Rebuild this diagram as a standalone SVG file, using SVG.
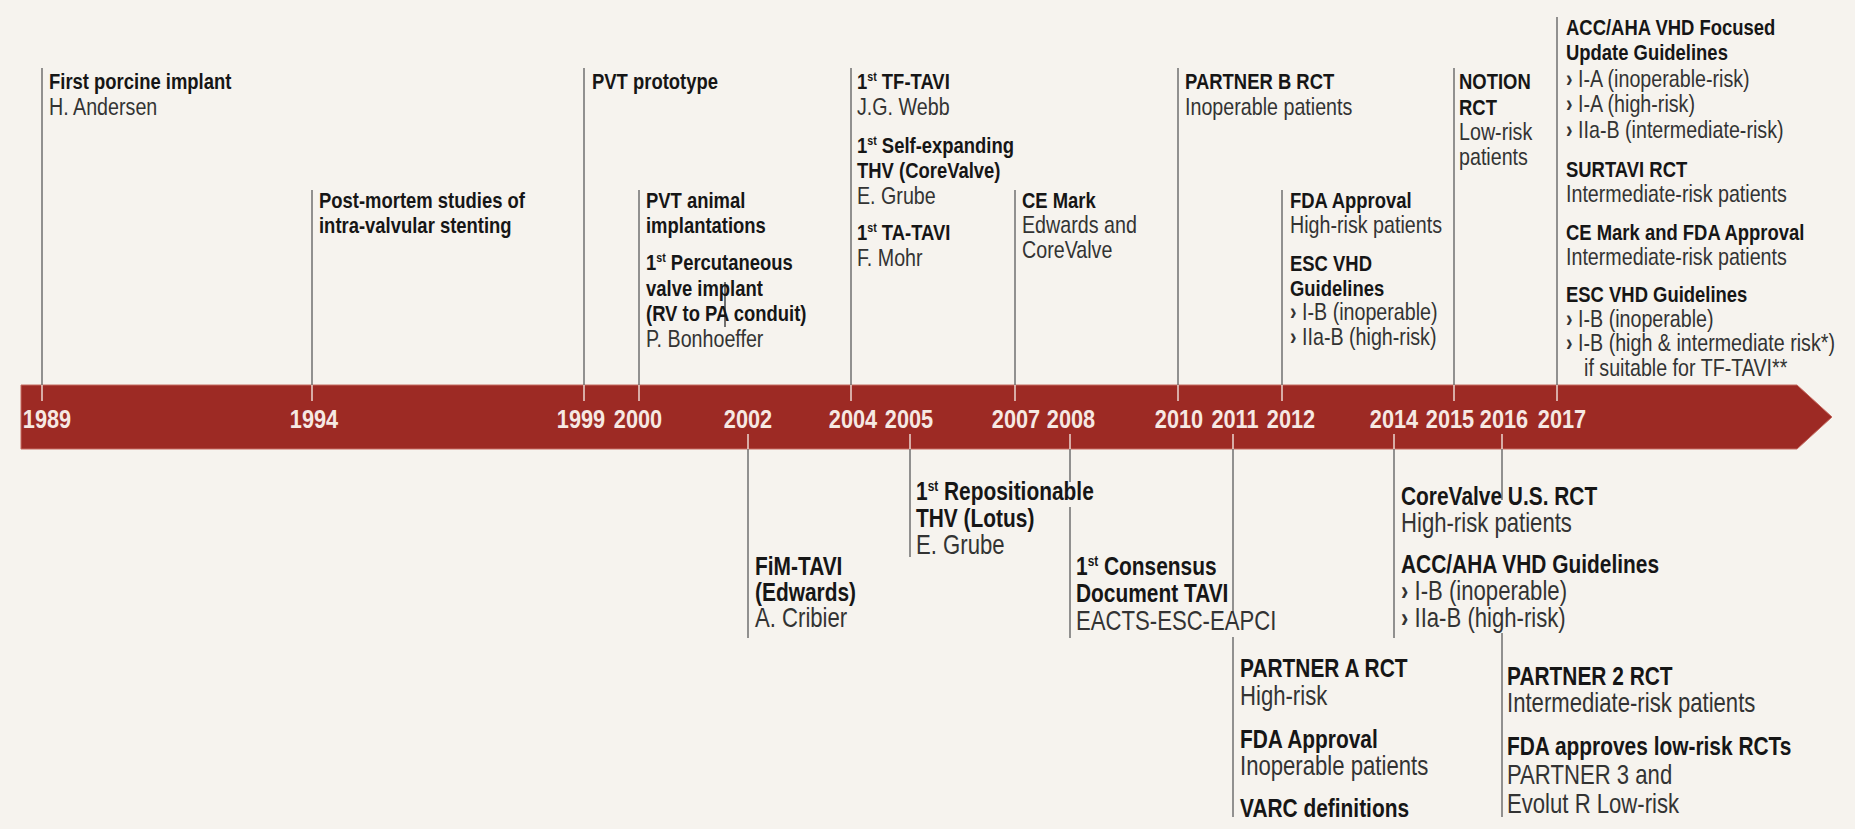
<svg xmlns="http://www.w3.org/2000/svg" width="1855" height="829" viewBox="0 0 1855 829">
<style>
text{font-family:"Liberation Sans",Arial,sans-serif}
.t{font-weight:bold;font-size:22.5px;fill:#161616}
.s{font-size:24px;fill:#333}
.tb{font-weight:bold;font-size:25.5px;fill:#161616}
.sb{font-size:27px;fill:#333}
.yr{font-weight:bold;font-size:26.5px;fill:#f6e8e3;text-anchor:middle}
.ln{stroke:#707070;stroke-width:1.5;fill:none}
.tk{stroke:#ecd6cf;stroke-width:1.5;fill:none}
.bul{font-weight:bold}
</style>
<rect width="1855" height="829" fill="#f6f3ee"/>
<g id="timeline-bar">
<path d="M21,385 H1797 L1832,417 L1797,449 H21 Z" fill="#9d2a24" stroke="#c56a60" stroke-width="1"/>
<path class="tk" d="M42,385V401 M312,385V401 M584,385V401 M639,385V401 M851,385V401 M1015,385V401 M1178,385V401 M1282,385V401 M1454,385V401 M1557,385V401 M748,434V449 M910,434V449 M1070,434V449 M1233,434V449 M1394,434V449 M1502,434V449"/>
<text class="yr" transform="translate(47,428) scale(0.82,1)">1989</text>
<text class="yr" transform="translate(314,428) scale(0.82,1)">1994</text>
<text class="yr" transform="translate(581,428) scale(0.82,1)">1999</text>
<text class="yr" transform="translate(638,428) scale(0.82,1)">2000</text>
<text class="yr" transform="translate(748,428) scale(0.82,1)">2002</text>
<text class="yr" transform="translate(853,428) scale(0.82,1)">2004</text>
<text class="yr" transform="translate(909,428) scale(0.82,1)">2005</text>
<text class="yr" transform="translate(1016,428) scale(0.82,1)">2007</text>
<text class="yr" transform="translate(1071,428) scale(0.82,1)">2008</text>
<text class="yr" transform="translate(1179,428) scale(0.82,1)">2010</text>
<text class="yr" transform="translate(1235,428) scale(0.82,1)">2011</text>
<text class="yr" transform="translate(1291,428) scale(0.82,1)">2012</text>
<text class="yr" transform="translate(1394,428) scale(0.82,1)">2014</text>
<text class="yr" transform="translate(1450,428) scale(0.82,1)">2015</text>
<text class="yr" transform="translate(1504,428) scale(0.82,1)">2016</text>
<text class="yr" transform="translate(1562,428) scale(0.82,1)">2017</text>
</g>
<g id="connectors">
<path class="ln" d="M42,68V385 M312,190V385 M584,68V385 M639,190V385 M851,68V385 M1015,190V385 M1178,68V385 M1282,190V385 M1454,68V385 M1557,17V385"/>
<path class="ln" d="M748,449V638 M910,449V557 M1070,449V482 M1070,507V638 M1233,449V613 M1233,637V817 M1394,449V638 M1502,449V500 M1502,633V817"/>
<path d="M725,282V327" stroke="#444" stroke-width="1.5"/>
</g>
<g id="e1989" transform="translate(49,0) scale(0.82,1)">
<text class="t" x="0" y="89">First porcine implant</text>
<text class="s" x="0" y="115">H. Andersen</text>
</g>
<g id="e1994" transform="translate(319,0) scale(0.82,1)">
<text class="t" x="0" y="208">Post-mortem studies of</text>
<text class="t" x="0" y="233">intra-valvular stenting</text>
</g>
<g id="e1999" transform="translate(592,0) scale(0.82,1)">
<text class="t" x="0" y="89">PVT prototype</text>
</g>
<g id="e2000" transform="translate(646,0) scale(0.82,1)">
<text class="t" x="0" y="208">PVT animal</text>
<text class="t" x="0" y="233">implantations</text>
<text class="t" x="0" y="270">1<tspan font-size="13" dy="-8">st</tspan><tspan dy="8"> Percutaneous</tspan></text>
<text class="t" x="0" y="296">valve implant</text>
<text class="t" x="0" y="321">(RV to PA conduit)</text>
<text class="s" x="0" y="347">P. Bonhoeffer</text>
</g>
<g id="e2004" transform="translate(857,0) scale(0.82,1)">
<text class="t" x="0" y="89">1<tspan font-size="13" dy="-8">st</tspan><tspan dy="8"> TF-TAVI</tspan></text>
<text class="s" x="0" y="115">J.G. Webb</text>
<text class="t" x="0" y="153">1<tspan font-size="13" dy="-8">st</tspan><tspan dy="8"> Self-expanding</tspan></text>
<text class="t" x="0" y="178">THV (CoreValve)</text>
<text class="s" x="0" y="204">E. Grube</text>
<text class="t" x="0" y="240">1<tspan font-size="13" dy="-8">st</tspan><tspan dy="8"> TA-TAVI</tspan></text>
<text class="s" x="0" y="266">F. Mohr</text>
</g>
<g id="e2007" transform="translate(1022,0) scale(0.82,1)">
<text class="t" x="0" y="208">CE Mark</text>
<text class="s" x="0" y="233">Edwards and</text>
<text class="s" x="0" y="258">CoreValve</text>
</g>
<g id="e2010" transform="translate(1185,0) scale(0.82,1)">
<text class="t" x="0" y="89">PARTNER B RCT</text>
<text class="s" x="0" y="115">Inoperable patients</text>
</g>
<g id="e2012" transform="translate(1290,0) scale(0.82,1)">
<text class="t" x="0" y="208">FDA Approval</text>
<text class="s" x="0" y="233">High-risk patients</text>
<text class="t" x="0" y="271">ESC VHD</text>
<text class="t" x="0" y="296">Guidelines</text>
<text class="s" x="0" y="320"><tspan class="bul">›</tspan> I-B (inoperable)</text>
<text class="s" x="0" y="345"><tspan class="bul">›</tspan> IIa-B (high-risk)</text>
</g>
<g id="e2015" transform="translate(1459,0) scale(0.82,1)">
<text class="t" x="0" y="89">NOTION</text>
<text class="t" x="0" y="115">RCT</text>
<text class="s" x="0" y="140">Low-risk</text>
<text class="s" x="0" y="165">patients</text>
</g>
<g id="e2017" transform="translate(1566,0) scale(0.82,1)">
<text class="t" x="0" y="35">ACC/AHA VHD Focused</text>
<text class="t" x="0" y="60">Update Guidelines</text>
<text class="s" x="0" y="87"><tspan class="bul">›</tspan> I-A (inoperable-risk)</text>
<text class="s" x="0" y="112"><tspan class="bul">›</tspan> I-A  (high-risk)</text>
<text class="s" x="0" y="138"><tspan class="bul">›</tspan> IIa-B (intermediate-risk)</text>
<text class="t" x="0" y="177">SURTAVI RCT</text>
<text class="s" x="0" y="202">Intermediate-risk patients</text>
<text class="t" x="0" y="240">CE Mark and FDA Approval</text>
<text class="s" x="0" y="265">Intermediate-risk patients</text>
<text class="t" x="0" y="302">ESC VHD Guidelines</text>
<text class="s" x="0" y="327"><tspan class="bul">›</tspan> I-B (inoperable)</text>
<text class="s" x="0" y="351"><tspan class="bul">›</tspan> I-B (high &amp; intermediate risk*)</text>
<text class="s" x="22" y="376">if suitable for TF-TAVI**</text>
</g>
<g id="e2002" transform="translate(755,0) scale(0.82,1)">
<text class="tb" x="0" y="575">FiM-TAVI</text>
<text class="tb" x="0" y="601">(Edwards)</text>
<text class="sb" x="0" y="627">A. Cribier</text>
</g>
<g id="e2005" transform="translate(916,0) scale(0.82,1)">
<text class="tb" x="0" y="500">1<tspan font-size="14.5" dy="-9">st</tspan><tspan dy="9"> Repositionable</tspan></text>
<text class="tb" x="0" y="527">THV (Lotus)</text>
<text class="sb" x="0" y="554">E. Grube</text>
</g>
<g id="e2008" transform="translate(1076,0) scale(0.82,1)">
<text class="tb" x="0" y="575">1<tspan font-size="14.5" dy="-9">st</tspan><tspan dy="9"> Consensus</tspan></text>
<text class="tb" x="0" y="602">Document TAVI</text>
<text class="sb" x="0" y="630">EACTS-ESC-EAPCI</text>
</g>
<g id="e2011" transform="translate(1240,0) scale(0.82,1)">
<text class="tb" x="0" y="677">PARTNER A RCT</text>
<text class="sb" x="0" y="705">High-risk</text>
<text class="tb" x="0" y="748">FDA Approval</text>
<text class="sb" x="0" y="775">Inoperable patients</text>
<text class="tb" x="0" y="817">VARC definitions</text>
</g>
<g id="e2014" transform="translate(1401,0) scale(0.82,1)">
<text class="tb" x="0" y="505">CoreValve U.S. RCT</text>
<text class="sb" x="0" y="532">High-risk patients</text>
<text class="tb" x="0" y="573">ACC/AHA VHD Guidelines</text>
<text class="sb" x="0" y="600"><tspan class="bul">›</tspan> I-B (inoperable)</text>
<text class="sb" x="0" y="627"><tspan class="bul">›</tspan> IIa-B (high-risk)</text>
</g>
<g id="e2016" transform="translate(1507,0) scale(0.82,1)">
<text class="tb" x="0" y="685">PARTNER 2 RCT</text>
<text class="sb" x="0" y="712">Intermediate-risk patients</text>
<text class="tb" x="0" y="755">FDA approves low-risk RCTs</text>
<text class="sb" x="0" y="784">PARTNER 3 and</text>
<text class="sb" x="0" y="813">Evolut R Low-risk</text>
</g>
</svg>
